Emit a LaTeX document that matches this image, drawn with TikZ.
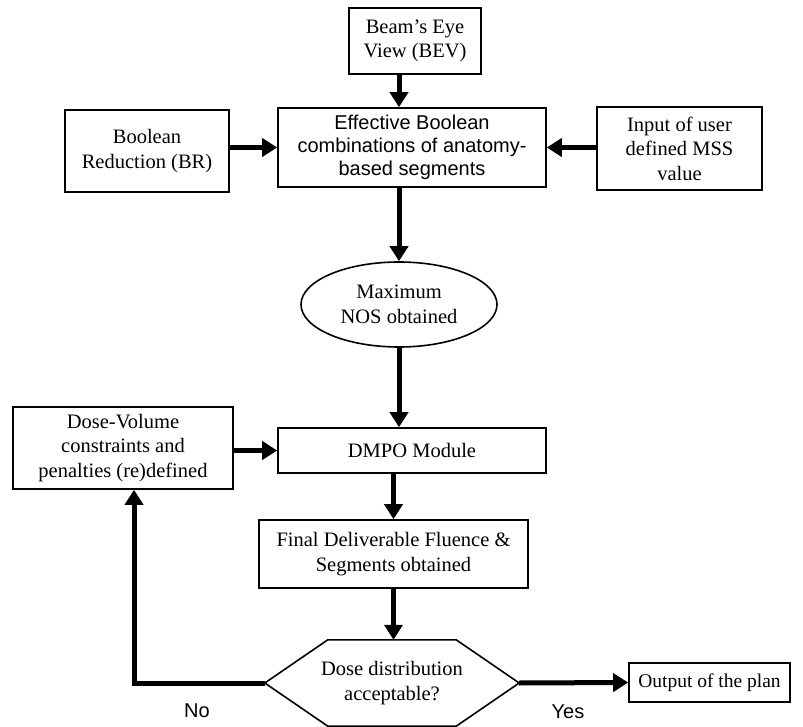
\documentclass[tikz,border=0pt]{standalone}
\usepackage{fontspec}
\setmainfont{Liberation Serif}
\setsansfont{Liberation Sans}
\usetikzlibrary{arrows.meta,calc,shapes.geometric}
\tikzset{>={Triangle[length=15pt,width=18pt]},every node/.style={font=\fontsize{20.5}{24.5}\selectfont,align=center},box/.style={draw,line width=1.6pt,inner sep=0pt},flow/.style={line width=5pt,->},lbl/.style={font=\fontsize{20}{24}\selectfont\sffamily}}

\begin{document}
\begin{tikzpicture}[x=1pt,y=-1pt]
\useasboundingbox (0,0) rectangle (803,727);
% boxes
\node[box,minimum width=132pt,minimum height=66pt] (bev) at (415,41) {Beam's Eye\\View (BEV)};
\node[box,minimum width=268pt,minimum height=79pt,font=\fontsize{20}{23}\selectfont\sffamily] (bool) at (412,147.5) {Effective Boolean\\combinations of anatomy-\\based segments};
\node[box,minimum width=164pt,minimum height=82pt] (br) at (147,151) {Boolean\\Reduction (BR)};
\node[box,minimum width=165pt,minimum height=83pt] (mss) at (679.5,148.5) {Input of user\\defined MSS\\value};
\node[box,ellipse,minimum width=196pt,minimum height=85pt] (nos) at (399,304.5) {Maximum\\NOS obtained};
\node[box,minimum width=268pt,minimum height=45pt] (dmpo) at (412,450.5) {DMPO Module};
\node[box,minimum width=220pt,minimum height=82pt] (dv) at (123,448) {Dose-Volume\\constraints and\\penalties (re)defined};
\node[box,minimum width=269pt,minimum height=68pt] (fin) at (393.5,554) {Final Deliverable Fluence \&\\Segments obtained};
\node[minimum width=254pt,minimum height=86pt,inner sep=0pt] (dec) at (392,683) {Dose distribution\\acceptable?};
\draw[line width=1.6pt] (dec.west)--($(dec.north west)+(63,0)$)--($(dec.north east)+(-63,0)$)--(dec.east)--($(dec.south east)+(-63,0)$)--($(dec.south west)+(63,0)$)--cycle;
\node[box,minimum width=161pt,minimum height=39pt,font=\fontsize{19.5}{23}\selectfont] (out) at (709.5,682.5) {Output of the plan};
% arrows
\draw[flow] (nos.north|-bev.south)--(nos.north|-bool.north);
\draw[flow] (br.east|-bool.west)--(bool.west);
\draw[flow] (mss.west|-bool.east)--(bool.east);
\draw[flow] (nos.north|-bool.south)--(nos.north);
\draw[flow] (nos.south)--(nos.south|-dmpo.north);
\draw[flow] (dv.east|-dmpo.west)--(dmpo.west);
\draw[flow] (fin.north|-dmpo.south)--(fin.north);
\draw[flow] (fin.south)--(fin.south|-dec.north);
\draw[flow] (dec.east)--(out.west);
\coordinate (bend) at (134,683);
\draw[flow] (dec.west)--(bend)--(bend|-dv.south);
\node[lbl] (no) at (197,711) {No};
\node[lbl] (yes) at (568,712) {Yes};
\end{tikzpicture}
\end{document}
